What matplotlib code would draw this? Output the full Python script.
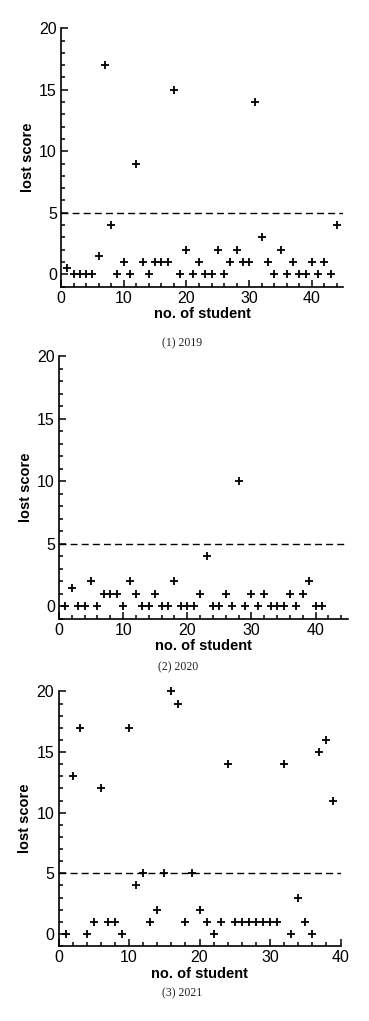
import numpy as np
import matplotlib
matplotlib.use("Agg")
import matplotlib.pyplot as plt
from matplotlib.ticker import MultipleLocator

plt.rcParams["font.family"] = ["Liberation Sans", "DejaVu Sans"]

# lost score per student
lost_2019 = [0.5, 0, 0, 0, 0, 1.5, 17, 4, 0, 1, 0, 9, 1, 0, 1, 1, 1, 15, 0, 2,
             0, 1, 0, 0, 2, 0, 1, 2, 1, 1, 14, 3, 1, 0, 2, 0, 1, 0, 0, 1,
             0, 1, 0, 4]
lost_2020 = [0, 1.5, 0, 0, 2, 0, 1, 1, 1, 0, 2, 1, 0, 0, 1, 0, 0, 2, 0, 0,
             0, 1, 4, 0, 0, 1, 0, 10, 0, 1, 0, 1, 0, 0, 0, 1, 0, 1, 2, 0, 0]
lost_2021 = [0, 13, 17, 0, 1, 12, 1, 1, 0, 17, 4, 5, 1, 2, 5, 20, 19, 1, 5, 2,
             1, 0, 1, 14, 1, 1, 1, 1, 1, 1, 1, 14, 0, 3, 1, 0, 15, 16, 11]

captions = ["(1) 2019", "(2) 2020", "(3) 2021"]
x_max = [45, 45, 40]
threshold = 5

W, H = 369, 1021
fig = plt.figure(figsize=(W / 100, H / 100), dpi=100)

# axes boxes in pixels: left, right, top, bottom
boxes = [(61, 343.3, 28.3, 286.6),
         (59, 347.7, 356, 618.8),
         (58.5, 340.5, 691.4, 946)]
# caption centres in pixels
cap_pos = [(182, 343), (178, 667), (182, 993)]

for lost, cap, xm, (l, r, t, b), (cx, cy) in zip(
        [lost_2019, lost_2020, lost_2021], captions, x_max, boxes, cap_pos):
    ax = fig.add_axes([l / W, 1 - b / H, (r - l) / W, (b - t) / H])
    students = np.arange(1, len(lost) + 1)
    ax.plot(students, lost, linestyle="none", marker="+", color="black",
            markersize=6, markeredgewidth=1.3, clip_on=False)
    ax.axhline(threshold, color="black", lw=1.0, linestyle=(0, (5, 3)))
    ax.set_xlim(0, xm)
    ax.set_ylim(-1, 20)
    ax.spines["top"].set_visible(False)
    ax.spines["right"].set_visible(False)
    for s in ["left", "bottom"]:
        ax.spines[s].set_linewidth(1.2)
    ax.xaxis.set_major_locator(MultipleLocator(10))
    ax.xaxis.set_minor_locator(MultipleLocator(2))
    ax.yaxis.set_major_locator(MultipleLocator(5))
    ax.yaxis.set_minor_locator(MultipleLocator(1))
    ax.tick_params(which="both", direction="in", width=1.1, labelsize=11.5,
                   pad=3)
    ax.tick_params(which="major", length=5)
    ax.tick_params(which="minor", length=3)
    ax.set_xlabel("no. of student", fontsize=10.5, fontweight="bold",
                  labelpad=1)
    ax.set_ylabel("lost score", fontsize=10.5, fontweight="bold",
                  labelpad=3)
    fig.text(cx / W, 1 - cy / H, cap, ha="center", va="center", fontsize=8.5,
             family=["Liberation Serif", "DejaVu Serif"], color="#222222")

fig.savefig("out.png", dpi=100)
